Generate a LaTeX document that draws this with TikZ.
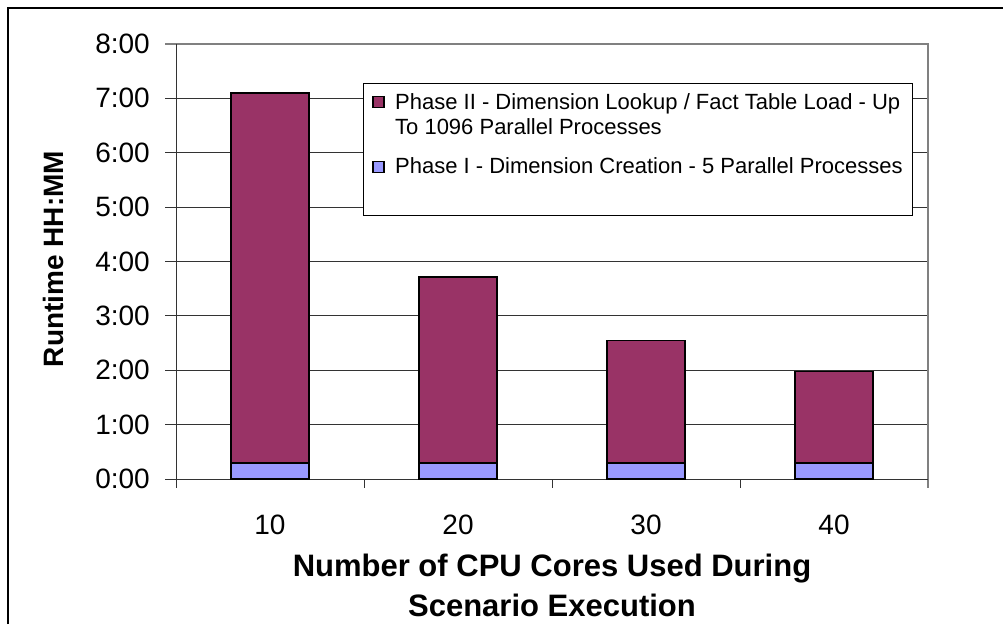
\documentclass[tikz,border=0pt]{standalone}
\usepackage{fontspec}
\setmainfont{Liberation Sans}
\definecolor{phasetwo}{HTML}{993366}
\definecolor{phaseone}{HTML}{9999FF}
\begin{document}
\begin{tikzpicture}[x=1pt,y=-1pt,
  grid/.style={draw=black!80,line width=0.9pt},
  frameline/.style={draw=black!50,line width=1.4pt},
  barone/.style={fill=phaseone,draw=black,line width=1.5pt},
  bartwo/.style={fill=phasetwo,draw=black,line width=1.5pt},
  ticklab/.style={font=\fontsize{28}{30}\selectfont,inner sep=0pt},
  axtitle/.style={font=\fontsize{31}{40}\selectfont\bfseries,inner sep=0pt,align=center},
  legtext/.style={font=\fontsize{22}{25}\selectfont,inner sep=0pt,align=left,anchor=west},
  legmark/.style={draw=black,line width=1.2pt,minimum size=11pt,inner sep=0pt}]
\useasboundingbox (0,0) rectangle (1003,624);
% outer frame (open to right and bottom)
\draw[line width=1.4pt] (8,624) -- (8,8) -- (1003,8);
% gridlines
\foreach \h in {1,...,7} {
  \draw[grid] (165,479-54.4*\h) -- (928,479-54.4*\h);
}
\draw[frameline] (165,43.8) -- (928,43.8) -- (928,488);
% axes
\draw[grid] (176,43.8) -- (176,488);
\draw[grid] (165,479) -- (928,479);
\foreach \x in {364,552,740} { \draw[grid] (\x,479) -- (\x,488); }
% y tick labels
\foreach \h/\t in {0/0:00,1/1:00,2/2:00,3/3:00,4/4:00,5/5:00,6/6:00,7/7:00,8/8:00} {
  \node[ticklab,anchor=east] (yl\h) at (150,479-54.4*\h) {\t};
}
% bars
\foreach \c/\v/\n in {270/7.10/10,458/3.71/20,646/2.55/30,834/1.98/40} {
  \path[bartwo] (\c-39,479-54.4*\v) rectangle (\c+39,479-54.4*0.29);
  \path[barone] (\c-39,479-54.4*0.29) rectangle (\c+39,479);
  \node[ticklab] (xl\n) at (\c,525) {\n};
}
% axis titles
\node[axtitle] (xtitle) at (552,585.5) {Number of CPU Cores Used During\\Scenario Execution};
\node[axtitle,rotate=90,font=\fontsize{28}{30}\selectfont\bfseries] (ytitle) at (53,259) {Runtime HH:MM};
% legend
\node[draw=black,line width=1pt,fill=white,minimum width=549pt,minimum height=132pt,anchor=north west,inner sep=0pt] (legend) at (363,83) {};
\node[legmark,fill=phasetwo] (m2) at (378.5,102.2) {};
\node[legtext] (t2) at (395,114.2) {Phase II - Dimension Lookup / Fact Table Load - Up\\To 1096 Parallel Processes};
\node[legmark,fill=phaseone] (m1) at (378.5,167.3) {};
\node[legtext] (t1) at (395,166) {Phase I - Dimension Creation - 5 Parallel Processes};
\end{tikzpicture}
\end{document}
